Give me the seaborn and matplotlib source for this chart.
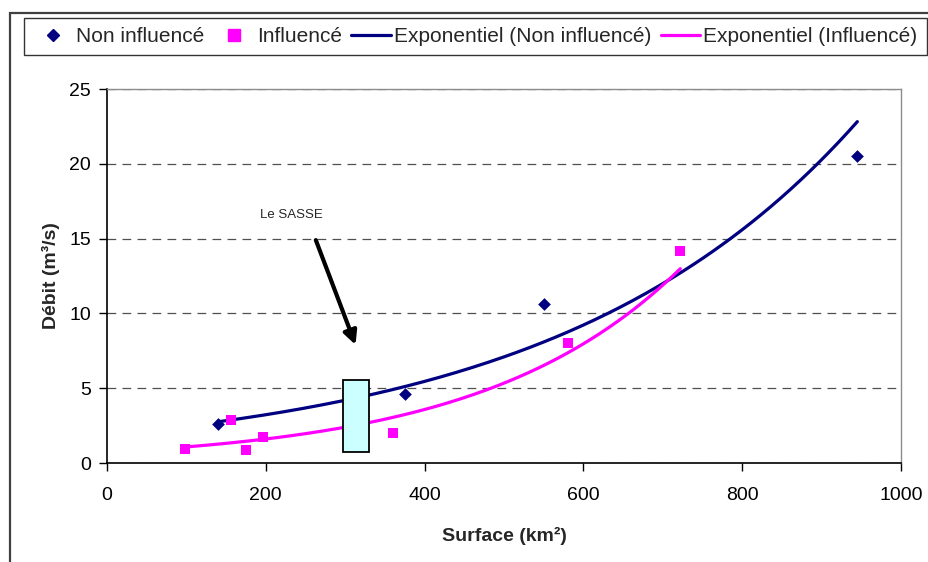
import numpy as np
import pandas as pd
import matplotlib
matplotlib.use("Agg")
import matplotlib.pyplot as plt
import seaborn as sns
from matplotlib.patches import Rectangle
from matplotlib.lines import Line2D

# Gauged catchments: surface (km²) and flow (m³/s)
surface_non_influence = [140, 375, 550, 945]
debit_non_influence = [2.6, 4.6, 10.6, 20.5]
surface_influence = [98, 156, 175, 196, 360, 581, 722]
debit_influence = [0.95, 2.9, 0.88, 1.75, 2.0, 8.0, 14.2]

# Range of the Sasse catchment (surface span, flow span)
sasse_surface = [297, 330]
sasse_debit = [0.75, 5.55]

x_ticks = [0, 200, 400, 600, 800, 1000]
y_ticks = [0, 5, 10, 15, 20, 25]

labels = ["Non influencé", "Influencé",
          "Exponentiel (Non influencé)", "Exponentiel (Influencé)"]

NAVY = "#000080"
MAGENTA = "#FF00FF"

sns.set_theme(style="white")
plt.rcParams["font.family"] = ["Liberation Sans", "DejaVu Sans"]


def exp_trend(x, y, n=200):
    """Least-squares exponential trend y = a·exp(b·x) over the data range."""
    x = np.asarray(x, float)
    y = np.asarray(y, float)
    b, ln_a = np.polyfit(x, np.log(y), 1)
    xs = np.linspace(x.min(), x.max(), n)
    return pd.DataFrame({"x": xs, "y": np.exp(ln_a + b * xs)})


W, H = 929, 562
fig = plt.figure(figsize=(W / 100, H / 100), dpi=100)
ax = fig.add_axes([107 / W, 1 - 463 / H, (901 - 107) / W, (463 - 89) / H])

# Trend curves
trend_ni = exp_trend(surface_non_influence, debit_non_influence)
trend_i = exp_trend(surface_influence, debit_influence)
sns.lineplot(data=trend_ni, x="x", y="y", color=NAVY, lw=2.3, ax=ax,
             legend=False, zorder=3)
sns.lineplot(data=trend_i, x="x", y="y", color=MAGENTA, lw=2.3, ax=ax,
             legend=False, zorder=3)

# Observations
sns.scatterplot(x=surface_non_influence, y=debit_non_influence, marker="D",
                s=42, color=NAVY, edgecolor=NAVY, linewidth=0, ax=ax, zorder=4)
sns.scatterplot(x=surface_influence, y=debit_influence, marker="s",
                s=60, color=MAGENTA, edgecolor=MAGENTA, linewidth=0, ax=ax,
                zorder=4)

# Sasse box with its label and arrow
ax.add_patch(Rectangle((sasse_surface[0], sasse_debit[0]),
                       sasse_surface[1] - sasse_surface[0],
                       sasse_debit[1] - sasse_debit[0],
                       facecolor="#CCFFFF", edgecolor="black", lw=1.3,
                       zorder=5))
ax.annotate("", xy=(313, 7.9), xytext=(263, 14.9),
            arrowprops=dict(arrowstyle="-|>", color="black", lw=3.0,
                            mutation_scale=20, shrinkA=0, shrinkB=0),
            zorder=6)
ax.text(193, 16.6, "Le SASSE", fontsize=9.5, ha="left", va="center")

# Axes
ax.set_xlim(0, 1000)
ax.set_ylim(0, 25)
ax.set_xticks(x_ticks)
ax.set_yticks(y_ticks)
ax.set_xticklabels([str(t) for t in x_ticks])
ax.set_yticklabels([str(t) for t in y_ticks])
ax.tick_params(axis="both", which="both", direction="out", length=6,
               width=1, color="black", labelsize=14, labelcolor="black",
               bottom=True, left=True)
ax.tick_params(axis="x", pad=11)
ax.tick_params(axis="y", pad=5.5)
ax.set_axisbelow(True)
ax.yaxis.grid(True, color="#505050", lw=0.9, linestyle=(0, (7, 5)))
ax.xaxis.grid(False)
for side in ("top", "right"):
    ax.spines[side].set_color("#8c8c8c")
    ax.spines[side].set_linewidth(1.0)
for side in ("left", "bottom"):
    ax.spines[side].set_color("black")
    ax.spines[side].set_linewidth(1.2)

ax.set_xlabel("Surface (km²)", fontsize=14, fontweight="bold", labelpad=17)
ax.set_ylabel("Débit (m³/s)", fontsize=14, fontweight="bold", labelpad=7)

# Legend across the top
handles = [
    Line2D([], [], marker="D", ls="", color=NAVY, ms=6),
    Line2D([], [], marker="s", ls="", color=MAGENTA, ms=8),
    Line2D([], [], color=NAVY, lw=2.3),
    Line2D([], [], color=MAGENTA, lw=2.3),
]
leg = fig.legend(handles, labels, loc="center",
                 bbox_to_anchor=((25 + 926) / 2 / W, 1 - (18 + 55) / 2 / H),
                 ncol=4, frameon=True, fancybox=False, edgecolor="black",
                 fontsize=15, handlelength=1.9, handletextpad=0.15,
                 columnspacing=0.45, borderpad=0.45, borderaxespad=0)
leg.get_frame().set_linewidth(1.0)

# Outer chart frame
fig.add_artist(Rectangle((10 / W, -0.05), 1.2, 1 - 13 / H + 0.05,
                         transform=fig.transFigure, fill=False,
                         edgecolor="#404040", lw=1.6))

fig.savefig("out.png", dpi=100)
